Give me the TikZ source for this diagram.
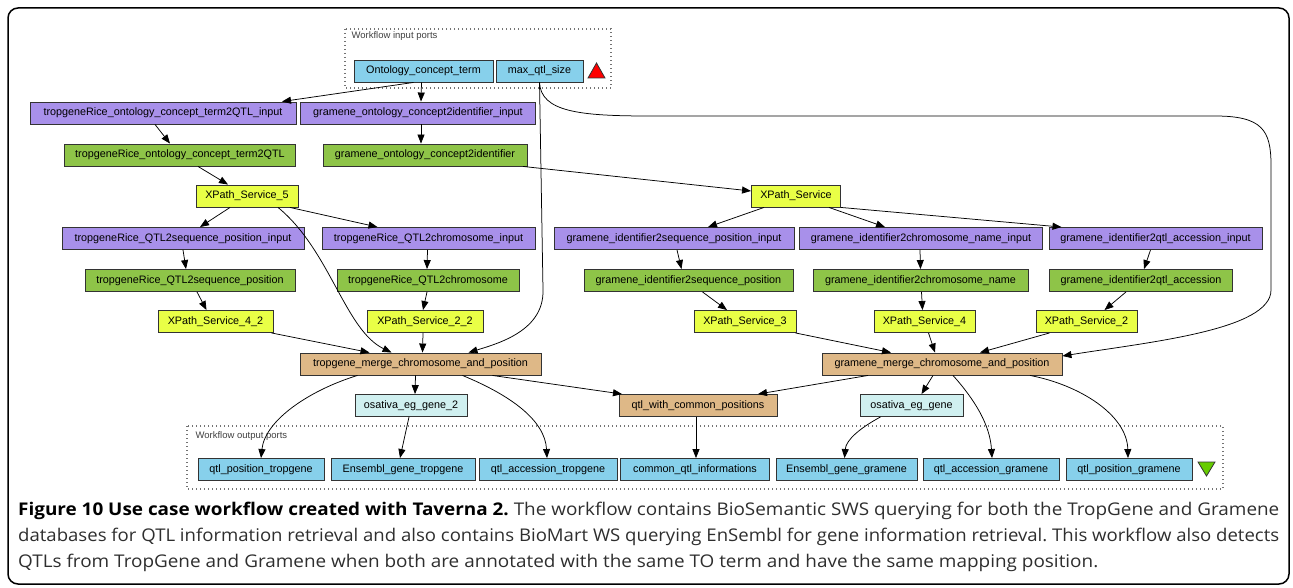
\documentclass[tikz,border=0pt]{standalone}
\usepackage{fontspec}
\usepackage{graphicx}
\setmainfont{Liberation Sans}
\newfontfamily\capfont{Open Sans}
\usetikzlibrary{arrows.meta}

\definecolor{portblue}{RGB}{135,208,235}
\definecolor{procpurple}{RGB}{168,144,234}
\definecolor{procgreen}{RGB}{142,196,72}
\definecolor{xpyellow}{RGB}{233,255,70}
\definecolor{mergetan}{RGB}{222,184,135}
\definecolor{martcyan}{RGB}{208,240,240}
\definecolor{outgreen}{RGB}{102,204,0}

\newcommand{\capline}[2]{\resizebox{#1}{\height}{#2}}

\begin{document}
\frenchspacing
\begin{tikzpicture}[x=1pt, y=-1pt,
  wf/.style={draw=black!80, line width=0.9pt, minimum height=22pt, inner sep=0pt, font=\fontsize{10.8}{12}\selectfont},
  port/.style={wf, fill=portblue},
  inp/.style={wf, fill=procpurple},
  svc/.style={wf, fill=procgreen},
  xpath/.style={wf, fill=xpyellow},
  merge/.style={wf, fill=mergetan},
  mart/.style={wf, fill=martcyan},
  flow/.style={-{Triangle[length=9pt,width=7pt]}, line width=0.75pt},
  portbox/.style={draw=black!55, line width=1.1pt, dash pattern=on 0.8pt off 3.2pt},
  portlabel/.style={anchor=west, text=black!75, font=\fontsize{9.5}{10}\selectfont}]
            \useasboundingbox (0,0) rectangle (1293,588);
            \draw[line width=1.5pt, rounded corners=10pt] (8,8) rectangle (1289,584);

            \draw[portbox] (345,29) rectangle (611,88);
            \node[portlabel] (inLabel) at (348,36) {Workflow input ports};
            \draw[portbox] (187,426) rectangle (1223,489);
            \node[portlabel] (outLabel) at (192,436) {Workflow output ports};

            \node[port, minimum width=139pt] (ont) at (423.5,71) {Ontology\_concept\_term};
            \node[port, minimum width=87pt] (maxq) at (539.5,71) {max\_qtl\_size};
            \draw[fill=red, draw=black!80, line width=0.8pt] (588,78) -- (605,78) -- (596.5,63) -- cycle;

            \node[inp, minimum width=266pt] (trOntIn) at (163,113) {tropgeneRice\_ontology\_concept\_term2QTL\_input};
            \node[inp, minimum width=235pt] (grOntIn) at (418,113) {gramene\_ontology\_concept2identifier\_input};

            \node[svc, minimum width=231pt] (trOnt) at (180,155) {tropgeneRice\_ontology\_concept\_term2QTL};
            \node[svc, minimum width=204pt] (grOnt) at (425,155) {gramene\_ontology\_concept2identifier};

            \node[xpath, minimum width=102pt] (xp5) at (247,196) {XPath\_Service\_5};
            \node[xpath, minimum width=89pt] (xp) at (796,196) {XPath\_Service};

            \node[inp, minimum width=242pt] (trSeqIn) at (183,238.5) {tropgeneRice\_QTL2sequence\_position\_input};
            \node[inp, minimum width=213pt] (trChrIn) at (428.5,238.5) {tropgeneRice\_QTL2chromosome\_input};
            \node[inp, minimum width=240pt] (grSeqIn) at (674,238.5) {gramene\_identifier2sequence\_position\_input};
            \node[inp, minimum width=243pt] (grChrIn) at (921,238.5) {gramene\_identifier2chromosome\_name\_input};
            \node[inp, minimum width=213pt] (grAccIn) at (1155.5,238.5) {gramene\_identifier2qtl\_accession\_input};

            \node[svc, minimum width=210pt] (trSeq) at (190,280.5) {tropgeneRice\_QTL2sequence\_position};
            \node[svc, minimum width=182pt] (trChr) at (428,280.5) {tropgeneRice\_QTL2chromosome};
            \node[svc, minimum width=209pt] (grSeq) at (688.5,280.5) {gramene\_identifier2sequence\_position};
            \node[svc, minimum width=215pt] (grChr) at (920.5,280.5) {gramene\_identifier2chromosome\_name};
            \node[svc, minimum width=183pt] (grAcc) at (1141,280.5) {gramene\_identifier2qtl\_accession};

            \node[xpath, minimum width=115pt] (xp42) at (215.5,321.5) {XPath\_Service\_4\_2};
            \node[xpath, minimum width=116pt] (xp22) at (425,321.5) {XPath\_Service\_2\_2};
            \node[xpath, minimum width=102pt] (xp3) at (745,321.5) {XPath\_Service\_3};
            \node[xpath, minimum width=101pt] (xp4) at (924.5,321.5) {XPath\_Service\_4};
            \node[xpath, minimum width=101pt] (xp2) at (1086.5,321.5) {XPath\_Service\_2};

            \node[merge, minimum width=241pt] (trMerge) at (420.5,364) {tropgene\_merge\_chromosome\_and\_position};
            \node[merge, minimum width=240pt] (grMerge) at (942,364) {gramene\_merge\_chromosome\_and\_position};

            \node[mart, minimum width=112pt] (osGene2) at (411,405.5) {osativa\_eg\_gene\_2};
            \node[merge, minimum width=158pt] (qtlCommon) at (698,405.5) {qtl\_with\_common\_positions};
            \node[mart, minimum width=103pt] (osGene) at (911.5,405.5) {osativa\_eg\_gene};

            \node[port, minimum width=126pt] (outTrPos) at (261,469.5) {qtl\_position\_tropgene};
            \node[port, minimum width=144pt] (outTrEns) at (403,469.5) {Ensembl\_gene\_tropgene};
            \node[port, minimum width=138pt] (outTrAcc) at (548,469.5) {qtl\_accession\_tropgene};
            \node[port, minimum width=149pt] (outCommon) at (695,469.5) {common\_qtl\_informations};
            \node[port, minimum width=141pt] (outGrEns) at (846.5,469.5) {Ensembl\_gene\_gramene};
            \node[port, minimum width=136pt] (outGrAcc) at (991,469.5) {qtl\_accession\_gramene};
            \node[port, minimum width=126pt] (outGrPos) at (1129,469.5) {qtl\_position\_gramene};
            \draw[fill=outgreen, draw=black!80, line width=0.8pt] (1198,462) -- (1215,462) -- (1206.5,476) -- cycle;

            \draw[flow] ([xshift=-10pt]ont.south) -- ([xshift=119pt]trOntIn.north);
            \draw[flow] ([xshift=-2pt]ont.south) -- ([xshift=3pt]grOntIn.north);
            \draw[flow] (maxq.south) -- (543,290) .. controls (544,330) and (500,343) .. ([xshift=48pt]trMerge.north);
            \draw[flow] (maxq.south) .. controls (541,112) and (580,116) .. (650,116) -- (1215,116)
              .. controls (1262,116) and (1271,130) .. (1271,165) -- (1271,290)
              .. controls (1271,330) and (1150,342) .. ([yshift=8pt]grMerge.east);

            \draw[flow] ([xshift=-8pt]trOntIn.south) -- ([xshift=-10pt]trOnt.north);
            \draw[flow] ([xshift=3pt]grOntIn.south) -- ([xshift=-4pt]grOnt.north);
            \draw[flow] ([xshift=18pt]trOnt.south) -- ([xshift=-19pt]xp5.north);
            \draw[flow] ([xshift=98pt]grOnt.south) -- ([yshift=5pt]xp.west);

            \draw[flow] ([xshift=-17pt]xp5.south) -- ([xshift=17pt]trSeqIn.north);
            \draw[flow] ([xshift=43pt]xp5.south) -- ([xshift=-51pt]trChrIn.north);
            \draw[flow] ([xshift=31pt]xp5.south) .. controls (330,250) and (345,330) .. ([xshift=-29pt]trMerge.north);
            \draw[flow] ([xshift=-32pt]xp.south) -- ([xshift=34pt]grSeqIn.north);
            \draw[flow] ([xshift=33pt]xp.south) -- ([xshift=-36pt]grChrIn.north);
            \draw[flow] (xp.south east) -- ([xshift=-94pt]grAccIn.north);

            \draw[flow] (trSeqIn.south) -- ([xshift=-4pt]trSeq.north);
            \draw[flow] ([xshift=-1pt]trChrIn.south) -- ([xshift=-1pt]trChr.north);
            \draw[flow] ([xshift=3pt]grSeqIn.south) -- ([xshift=-7pt]grSeq.north);
            \draw[flow] ([xshift=-1pt]grChrIn.south) -- (grChr.north);
            \draw[flow] ([xshift=-5pt]grAccIn.south) -- ([xshift=3pt]grAcc.north);

            \draw[flow] ([xshift=7pt]trSeq.south) -- ([xshift=-9pt]xp42.north);
            \draw[flow] ([xshift=-1pt]trChr.south) -- ([xshift=-2pt]xp22.north);
            \draw[flow] ([xshift=14pt]grSeq.south) -- ([xshift=-18pt]xp3.north);
            \draw[flow] ([xshift=1pt]grChr.south) -- ([xshift=-2pt]xp4.north);
            \draw[flow] ([xshift=-15pt]grAcc.south) -- ([xshift=18pt]xp2.north);

            \draw[flow] ([xshift=-2pt]xp42.south east) -- ([xshift=-51pt]trMerge.north);
            \draw[flow] ([xshift=-2pt]xp22.south) -- ([xshift=2pt]trMerge.north);
            \draw[flow] ([xshift=-1pt]xp3.south east) -- ([xshift=-51pt]grMerge.north);
            \draw[flow] ([xshift=4pt]xp4.south) -- ([xshift=-7pt]grMerge.north);
            \draw[flow] ([xshift=-37pt]xp2.south) -- ([xshift=38pt]grMerge.north);

            \draw[flow] ([xshift=-63pt]trMerge.south) .. controls (310,390) and (265,420) .. (outTrPos.north);
            \draw[flow] ([xshift=-5pt]trMerge.south) -- ([xshift=4pt]osGene2.north);
            \draw[flow] ([xshift=42pt]trMerge.south) .. controls (510,395) and (545,420) .. ([xshift=-1pt]outTrAcc.north);
            \draw[flow] ([xshift=72pt]trMerge.south) -- ([xshift=-76pt]qtlCommon.north);
            \draw[flow] ([xshift=-2pt]osGene2.south) -- ([xshift=-3pt]outTrEns.north);
            \draw[flow] ([xshift=-2pt]qtlCommon.south) -- ([xshift=1pt]outCommon.north);

            \draw[flow] ([xshift=-74pt]grMerge.south) -- ([xshift=60pt]qtlCommon.north);
            \draw[flow] ([xshift=-9pt]grMerge.south) -- ([xshift=10pt]osGene.north);
            \draw[flow] ([xshift=-31pt]osGene.south) .. controls (860,428) and (846,440) .. ([xshift=-2pt]outGrEns.north);
            \draw[flow] ([xshift=11pt]grMerge.south) .. controls (975,400) and (990,425) .. ([xshift=1pt]outGrAcc.north);
            \draw[flow] ([xshift=88pt]grMerge.south) .. controls (1080,385) and (1127,415) .. ([xshift=-1pt]outGrPos.north);

            \begin{scope}[every node/.style={anchor=base west, inner sep=0pt, text=black!82, font=\capfont\fontsize{17.5}{20}\selectfont}]
            \node (cap1) at (18,515) {\capline{1261pt}{\textcolor{black}{\textbf{Figure 10 Use case workflow created with Taverna 2.}} The workflow contains BioSemantic SWS querying for both the TropGene and Gramene}};
            \node (cap2) at (18,541) {\capline{1261pt}{databases for QTL information retrieval and also contains BioMart WS querying EnSembl for gene information retrieval. This workflow also detects}};
            \node (cap3) at (18,567) {\capline{1080pt}{QTLs from TropGene and Gramene when both are annotated with the same TO term and have the same mapping position.}};
            \end{scope}
        \end{tikzpicture}
\end{document}
